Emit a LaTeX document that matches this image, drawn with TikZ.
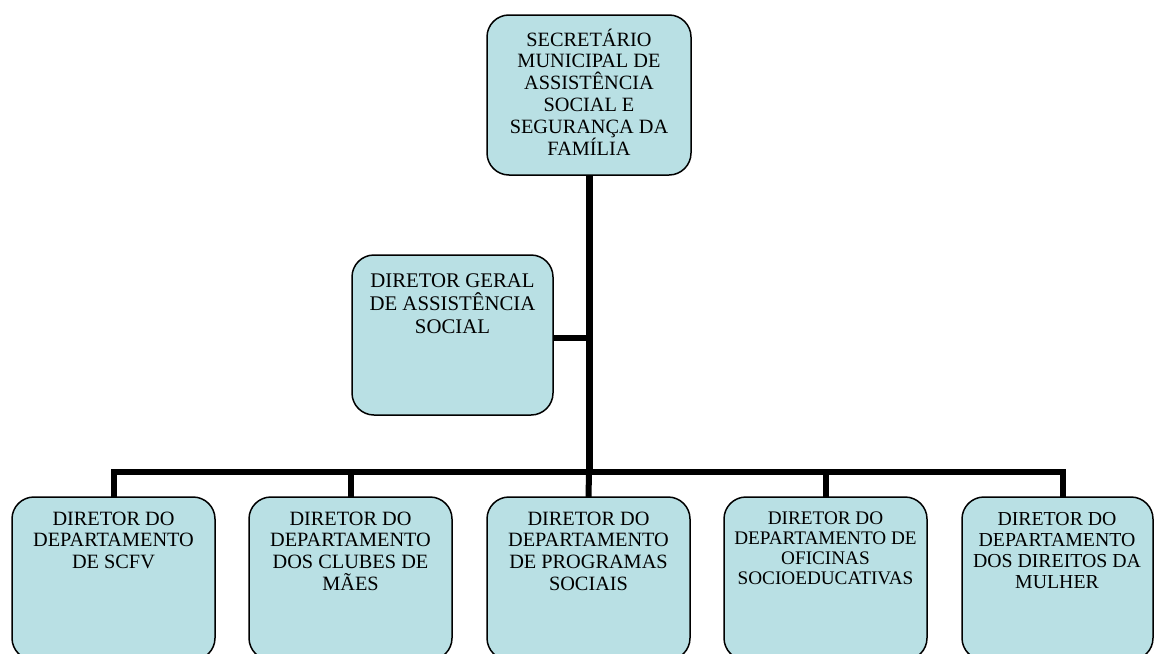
\documentclass[tikz,border=0pt]{standalone}
\usepackage{fontspec}
\setmainfont{Liberation Serif}
\definecolor{boxfill}{RGB}{185,224,228}
\tikzset{
  orgbox/.style={draw=black, line width=1.5pt, fill=boxfill, rounded corners=22pt, inner sep=0pt},
  orgtext/.style={anchor=base, inner sep=0pt},
  link/.style={line width=6pt, draw=black}
}
\newcommand{\bt}[2][20.3]{\parbox[t]{200pt}{\centering\fontsize{#1}{21.8}\selectfont #2}}
\begin{document}
\begin{tikzpicture}[x=1pt,y=-1pt]
\useasboundingbox (0,0) rectangle (1155,653);
\clip (0,0) rectangle (1155,653);
% boxes
\path[orgbox] (487,15) rectangle (691,175);
\coordinate (topS) at (589,175);
\path[orgbox] (352,255) rectangle (553,415);
\coordinate (gerE) at (553,338);
\path[orgbox] (12,497) rectangle (215,660);
\path[orgbox] (249,497) rectangle (452,660);
\path[orgbox] (487,497) rectangle (690,660);
\path[orgbox] (724,497) rectangle (927,660);
\path[orgbox] (962,497) rectangle (1153,660);
% connector coordinates
\coordinate (bar) at (589,472);
\coordinate (ger) at (589,338);
\coordinate (d1) at (113.5,497);
\coordinate (d2) at (350.5,497);
\coordinate (d3) at (588.5,497);
\coordinate (d4) at (825.5,497);
\coordinate (d5) at (1063,497);
\coordinate (b1) at (113.5,472);
\coordinate (b2) at (350.5,472);
\coordinate (b4) at (825.5,472);
\coordinate (b5) at (1063,472);
\draw[link, line width=7pt] (topS) -- (bar);
\draw[link] (gerE) -- (ger);
\draw[link, line cap=rect] (b1) -- (b5);
\draw[link] (b1) -- (d1);
\draw[link] (b2) -- (d2);
\draw[link] (bar) -- (d3);
\draw[link] (b4) -- (d4);
\draw[link] (b5) -- (d5);
% texts
\node[orgtext] (tsec) at (589,46) {\bt{SECRETÁRIO\\MUNICIPAL DE\\ASSISTÊNCIA\\SOCIAL E\\SEGURANÇA DA\\FAMÍLIA}};
\node[orgtext] (tger) at (452.5,287) {\parbox[t]{200pt}{\centering\fontsize{20.8}{23.3}\selectfont DIRETOR GERAL\\DE ASSISTÊNCIA\\SOCIAL}};
\node[orgtext] (t1) at (113.5,525) {\bt{DIRETOR DO\\DEPARTAMENTO\\DE SCFV}};
\node[orgtext] (t2) at (350.5,525) {\bt{DIRETOR DO\\DEPARTAMENTO\\DOS CLUBES DE\\MÃES}};
\node[orgtext] (t3) at (588.5,525) {\bt{DIRETOR DO\\DEPARTAMENTO\\DE PROGRAMAS\\SOCIAIS}};
\node[orgtext] (t4) at (825.5,524) {\parbox[t]{200pt}{\centering\fontsize{19.2}{20.3}\selectfont DIRETOR DO\\DEPARTAMENTO DE\\OFICINAS\\SOCIOEDUCATIVAS}};
\node[orgtext] (t5) at (1057,525) {\parbox[t]{200pt}{\centering\fontsize{19.8}{21.2}\selectfont DIRETOR DO\\DEPARTAMENTO\\DOS DIREITOS DA\\MULHER}};
\end{tikzpicture}
\end{document}
